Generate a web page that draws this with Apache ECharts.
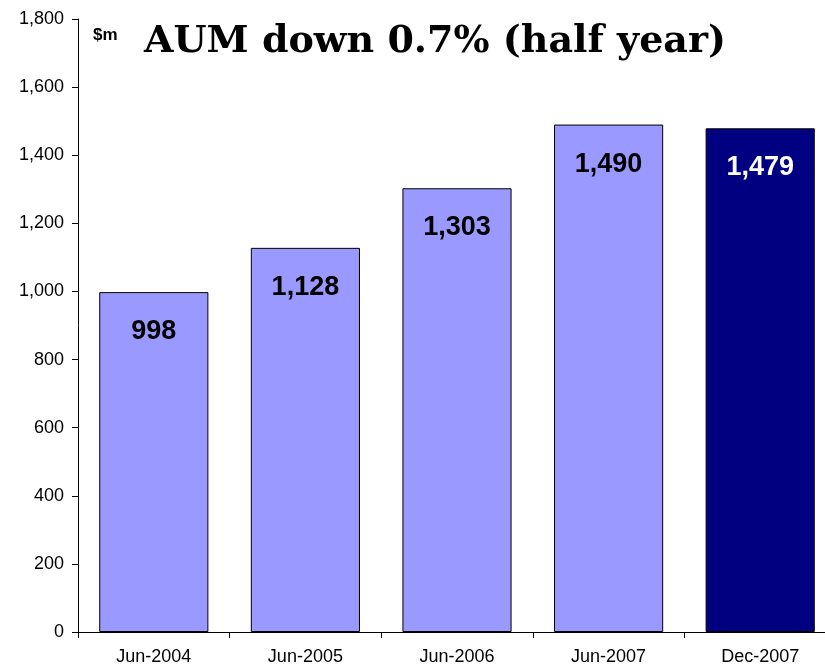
<!DOCTYPE html>
<html>
<head>
<meta charset="utf-8">
<script src="https://cdn.jsdelivr.net/npm/echarts@6/dist/echarts.min.js"></script>
<style>
  html, body { margin: 0; padding: 0; background: #fff; overflow: hidden; }
  /* the plot runs slightly past the right edge of the window */
  #chart { width: 840px; height: 664px; }
</style>
</head>
<body>
<div id="chart"></div>
<script>
// Assets under management, $m
const periods = ['Jun-2004', 'Jun-2005', 'Jun-2006', 'Jun-2007', 'Dec-2007'];
const aum = [998, 1128, 1303, 1490, 1479];
const barColors = ['#9999FF', '#9999FF', '#9999FF', '#9999FF', '#000080'];
const labelColors = ['#000000', '#000000', '#000000', '#000000', '#FFFFFF'];
const yTicks = { min: 0, max: 1800, interval: 200 };

const chart = echarts.init(document.getElementById('chart'), null, { renderer: 'canvas' });

const fmt = v => v.toLocaleString('en-US');

chart.setOption({
  animation: false,
  backgroundColor: '#ffffff',
  grid: { left: 78, top: 19, width: 758, height: 613, outerBoundsMode: 'none', containLabel: false },
  title: [
    {
      text: 'AUM down 0.7% (half year)',
      left: 139, top: 18,
      textStyle: { fontFamily: 'DejaVu Serif', fontWeight: 'bold', fontSize: 38, color: '#000' }
    },
    {
      text: '$m',
      left: 88, top: 22,
      textStyle: { fontFamily: 'Liberation Sans, Arial', fontWeight: 'bold', fontSize: 17, color: '#000' }
    }
  ],
  xAxis: {
    type: 'category',
    data: periods,
    boundaryGap: true,
    axisLine: { lineStyle: { color: '#000', width: 1 } },
    axisTick: { show: true, alignWithLabel: false, length: 6, lineStyle: { color: '#000' } },
    axisLabel: { margin: 16, fontFamily: 'Liberation Sans, Arial', fontSize: 18, color: '#000' }
  },
  yAxis: {
    type: 'value',
    min: yTicks.min, max: yTicks.max, interval: yTicks.interval,
    axisLine: { show: true, lineStyle: { color: '#000', width: 1 } },
    axisTick: { show: true, length: 6, lineStyle: { color: '#000' } },
    splitLine: { show: false },
    axisLabel: {
      margin: 14, fontFamily: 'Liberation Sans, Arial', fontSize: 18, color: '#000',
      formatter: v => fmt(v)
    }
  },
  series: [{
    type: 'bar',
    barCategoryGap: '28%',
    data: aum.map((v, i) => ({
      value: v,
      itemStyle: { color: barColors[i], borderColor: '#000', borderWidth: 1 },
      label: { color: labelColors[i] }
    })),
    label: {
      show: true,
      position: 'insideTop',
      distance: 26,
      fontFamily: 'Liberation Sans, Arial',
      fontWeight: 'bold',
      fontSize: 27,
      formatter: p => fmt(p.value)
    }
  }]
});
</script>
</body>
</html>
